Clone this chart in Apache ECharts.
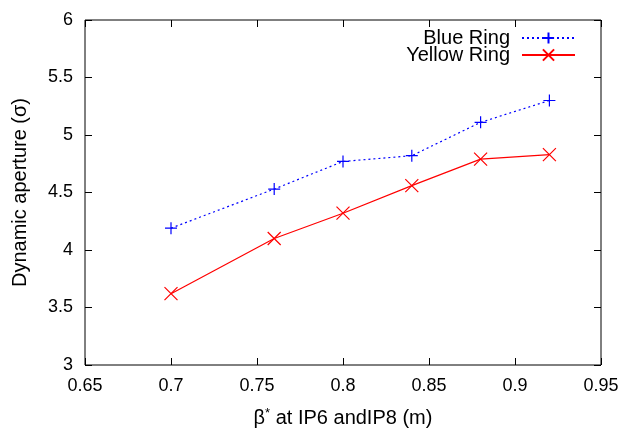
<!DOCTYPE html>
<html>
<head>
<meta charset="utf-8">
<script src="https://cdn.jsdelivr.net/npm/echarts@6/dist/echarts.min.js"></script>
<style>
  html, body { margin: 0; padding: 0; background: #fff; }
  #chart { width: 624px; height: 429px; }
</style>
</head>
<body>
<div id="chart"></div>
<script>
// beta* values at IP6 and IP8 (m)
const betaStar = [0.7, 0.76, 0.8, 0.84, 0.88, 0.92];
// dynamic aperture in units of sigma
const blueRing = [4.19, 4.53, 4.77, 4.82, 5.11, 5.30];
const yellowRing = [3.62, 4.10, 4.32, 4.56, 4.79, 4.83];
const xTicks = { min: 0.65, max: 0.95, step: 0.05 };
const yTicks = { min: 3, max: 6, step: 0.5 };

const FONT = '"Liberation Sans", Arial, Helvetica, sans-serif';
const plus = 'path://M0,-10 L0,10 M-10,0 L10,0';
const cross = 'path://M-10,-10 L10,10 M-10,10 L10,-10';

const pairs = (xs, ys) => xs.map((x, i) => [x, ys[i]]);
const fmt = v => String(+v.toFixed(2));

const baseX = {
  type: 'value', min: xTicks.min, max: xTicks.max, interval: xTicks.step,
  axisLine: { show: false },
  axisTick: { show: true, inside: true, length: 7, lineStyle: { color: '#000', width: 1 } },
  splitLine: { show: false }
};
const baseY = {
  type: 'value', min: yTicks.min, max: yTicks.max, interval: yTicks.step,
  axisLine: { show: false },
  axisTick: { show: true, inside: true, length: 7, lineStyle: { color: '#000', width: 1 } },
  splitLine: { show: false }
};

const chart = echarts.init(document.getElementById('chart'), null, { renderer: 'canvas' });
chart.setOption({
  animation: false,
  backgroundColor: '#fff',
  textStyle: { fontFamily: FONT },
  grid: {
    left: 85, right: 23, top: 20, bottom: 64,
    outerBoundsMode: 'none', containLabel: false,
    show: true, borderColor: '#000', borderWidth: 1, backgroundColor: 'transparent'
  },
  legend: {
    right: 43, top: 23, orient: 'vertical', align: 'right',
    itemWidth: 53, itemHeight: 14, itemGap: -3,
    textStyle: { fontFamily: FONT, fontSize: 20, color: '#000', padding: [0, 7, 0, 0] },
    data: ['Blue Ring', 'Yellow Ring']
  },
  xAxis: [
    Object.assign({}, baseX, {
      position: 'bottom',
      axisLabel: { color: '#000', fontFamily: FONT, fontSize: 18, margin: 12, formatter: fmt },
      name: '{b|β}{s|*}{t| at IP6 andIP8 (m)}',
      nameLocation: 'middle', nameGap: 42,
      nameTextStyle: {
        rich: {
          b: { fontFamily: FONT, fontSize: 20, color: '#000' },
          s: { fontFamily: FONT, fontSize: 13, color: '#000', verticalAlign: 'top', padding: [0, 0, 10, 0] },
          t: { fontFamily: FONT, fontSize: 20, color: '#000' }
        }
      }
    }),
    Object.assign({}, baseX, { position: 'top', axisLabel: { show: false } })
  ],
  yAxis: [
    Object.assign({}, baseY, {
      position: 'left',
      axisLabel: { color: '#000', fontFamily: FONT, fontSize: 18, margin: 12, formatter: fmt },
      name: 'Dynamic aperture (σ)',
      nameLocation: 'middle', nameGap: 55, nameRotate: 90,
      nameTextStyle: { fontFamily: FONT, fontSize: 20, color: '#000' }
    }),
    Object.assign({}, baseY, { position: 'right', axisLabel: { show: false } })
  ],
  series: [
    {
      name: 'Blue Ring', type: 'line', data: pairs(betaStar, blueRing),
      symbol: plus, symbolSize: 12,
      itemStyle: { color: 'none', borderColor: '#0000ff', borderWidth: 1.2 },
      lineStyle: { color: '#0000ff', width: 1.2, type: [2, 3] },
      color: '#0000ff'
    },
    {
      name: 'Yellow Ring', type: 'line', data: pairs(betaStar, yellowRing),
      symbol: cross, symbolSize: 13,
      itemStyle: { color: 'none', borderColor: '#ff0000', borderWidth: 1.2 },
      lineStyle: { color: '#ff0000', width: 1.2, type: 'solid' },
      color: '#ff0000'
    }
  ]
});
</script>
</body>
</html>
